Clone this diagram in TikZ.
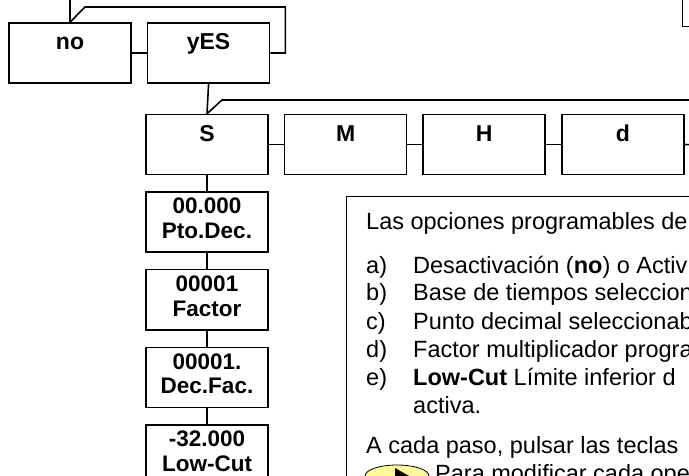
\documentclass[tikz,border=0pt]{standalone}
\usepackage{fontspec}
\setmainfont{Liberation Sans}
\usetikzlibrary{positioning}
\usetikzlibrary{shapes.geometric}
\tikzset{
  menubox/.style={draw, line width=1.6pt, minimum width=122pt, minimum height=60pt,
    inner sep=0pt, font=\fontsize{23}{24.5}\selectfont\bfseries, text height=4pt, text depth=10pt},
  valbox/.style={draw, line width=1.6pt, minimum width=122pt, minimum height=60pt,
    inner sep=0pt, align=center, font=\fontsize{22.5}{24.5}\selectfont\bfseries, text depth=7.6pt},
  link/.style={line width=1.6pt},
  txt/.style={anchor=base west, inner sep=0pt, font=\fontsize{23.5}{28}\selectfont},
  key/.style={ellipse, draw, line width=0.8pt, fill=yellow!40, minimum width=64pt, minimum height=22pt, inner sep=0pt}
}

\begin{document}
\begin{tikzpicture}[x=1pt, y=-1pt]
  \useasboundingbox (0,0) rectangle (689,476);
  \clip (0,0) rectangle (689,476);

  % first level
  \node[menubox] (no) at (70,53) {no};
  \node[menubox, right=15pt of no] (yes) {yES};
  \coordinate (noup) at (70,-5);
  \coordinate (loopcorner) at (85,7);
  \draw[link] (noup) -- (no.north);
  \draw[link] (no.east) -- (yes.west);
  \draw[link] (yes.east) -- ++(15,0) |- (loopcorner) -- (no.north);

  % time base
  \node[menubox] (s) at (207,144.5) {S};
  \node[menubox, right=15pt of s] (m) {M};
  \node[menubox, right=15pt of m] (h) {H};
  \node[menubox, right=15pt of h] (d) {d};
  \coordinate (sbend) at (222,100);
  \coordinate (sright) at (700,100);
  \coordinate (dright) at (700,145);
  \draw[link] (yes.south) -- (s.north);
  \draw[link] (s.north) -- (sbend) -- (sright);
  \draw[link] (s.east) -- (m.west);
  \draw[link] (m.east) -- (h.west);
  \draw[link] (h.east) -- (d.west);
  \draw[link] (d.east) -- (dright);

  % settings column
  \node[valbox, below=16pt of s] (ptodec) {00.000\\Pto.Dec.};
  \node[valbox, below=16pt of ptodec] (factor) {00001\\Factor};
  \node[valbox, below=16pt of factor] (decfac) {00001.\\Dec.Fac.};
  \node[valbox, below=16pt of decfac] (lowcut) {-32.000\\Low-Cut};
  \draw[link] (s.south) -- (ptodec.north);
  \draw[link] (ptodec.south) -- (factor.north);
  \draw[link] (factor.south) -- (decfac.north);
  \draw[link] (decfac.south) -- (lowcut.north);

  % frames at the right
  \draw[line width=0.8pt] (682,-10) rectangle (720,26);
  \draw[line width=0.8pt] (346,196) rectangle (720,520);

  % description
  \node[txt] (intro) at (366,230) {Las opciones programables de};
  \node[txt] (la) at (366,273) {a)};
  \node[txt] (lb) at (366,301) {b)};
  \node[txt] (lc) at (366,329) {c)};
  \node[txt] (ld) at (366,357) {d)};
  \node[txt] (le) at (366,385) {e)};
  \node[txt] (ta) at (413,273) {Desactivación (\textbf{no}) o Activ};
  \node[txt] (tb) at (413,301) {Base de tiempos seleccion};
  \node[txt] (tc) at (413,329) {Punto decimal seleccionab};
  \node[txt] (td) at (413,357) {Factor multiplicador progra};
  \node[txt] (te) at (413,385) {\textbf{Low-Cut} Límite inferior d};
  \node[txt] (te2) at (413,413) {activa.};
  \node[txt] (step) at (366,453) {A cada paso, pulsar las teclas};
  \node[key] (right) at (397,476) {};
  \fill (right.center) ++(-2,-8) -- ++(14,8) -- ++(-14,8) -- cycle;
  \node[txt] (modify) at (435,481) {Para modificar cada ope};
\end{tikzpicture}
\end{document}
